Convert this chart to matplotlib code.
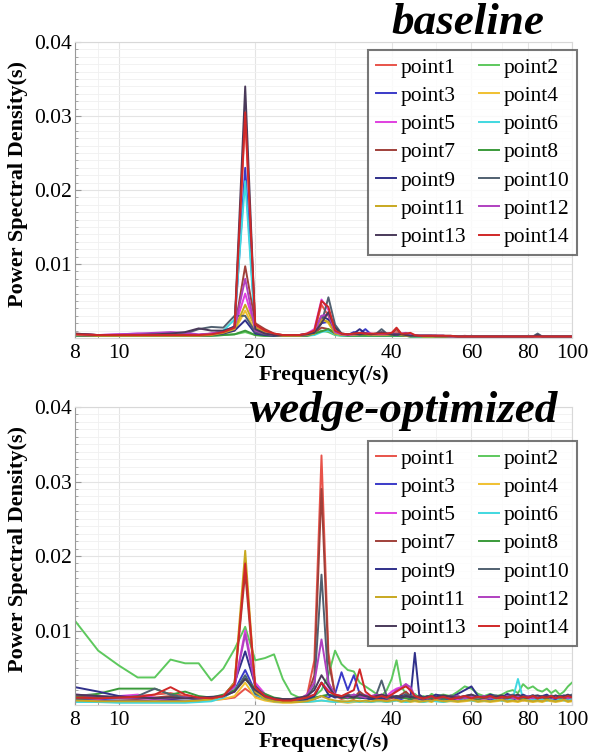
import matplotlib
matplotlib.use("Agg")
import matplotlib.pyplot as plt
from matplotlib.ticker import FixedLocator, NullFormatter, MultipleLocator

# ---------------- data (PSD values in units of 1e-4) ----------------
freq = [8, 9, 10, 11, 12, 13, 14, 15, 16, 17,
        18, 19, 20, 21, 22, 23, 24, 25, 26, 27,
        28, 29, 30, 31, 32, 33, 34, 35, 36, 37,
        38, 39, 40, 41, 42, 43, 44, 45, 46, 47,
        48, 49, 50, 52, 54, 56, 58, 60, 62, 64,
        66, 68, 70, 72, 74, 76, 78, 80, 82, 84,
        86, 88, 90, 92, 94, 96, 98, 100]

labels = ["point%d" % i for i in range(1, 15)]
colors = ["#e8534a", "#5dc85d", "#3a3ac8", "#f0c030", "#e040e0", "#40d8e0", "#a0403a",
          "#3a9a3a", "#30308a", "#506070", "#c8a820", "#b040c0", "#4a3a5a", "#d02828"]

# baseline
base_p1 = [6,4,3,4,4,3,3,4,6,9, 14,298,15,8,5,4,4,4,5,8, 45,30,8,5,4,6,5,6,5,5,
           5,5,6,8,5,4,4,3,3,3, 3,3,3,3,2,2,3,2,2,2, 2,2,2,2,2,2,2,2,2,3, 2,2,2,2,2,2,2,2]
base_p2 = [4,3,3,3,3,3,3,3,3,4, 5,8,4,3,3,3,3,3,3,5, 10,8,4,3,3,3,3,3,3,3,
           3,3,3,3,3,3,2,2,2,2, 2,2,2,2,2,2,2,2,2,2, 2,2,2,2,2,2,2,2,2,2, 2,2,2,2,2,2,2,2]
base_p3 = [5,4,4,3,3,3,3,4,5,8, 16,230,10,6,4,3,3,3,4,6, 20,22,6,4,4,8,6,12,5,4,
           6,4,5,4,4,3,3,3,3,3, 3,3,3,2,2,2,2,2,2,2, 2,2,2,2,2,2,2,2,2,2, 2,2,2,2,2,2,2,2]
base_p4 = [4,3,3,3,3,3,3,3,4,6, 10,37,8,5,4,3,3,3,3,5, 27,20,6,4,3,4,4,5,4,4,
           4,4,5,5,4,3,3,3,3,2, 2,2,2,2,2,2,2,2,2,2, 2,2,2,2,2,2,2,2,2,2, 2,2,2,2,2,2,2,2]
base_p5 = [5,4,5,6,5,4,4,4,6,9, 14,60,12,6,4,4,3,4,6,12, 52,38,10,5,4,5,6,7,6,5,
           5,6,7,6,5,5,4,3,3,3, 3,3,3,3,2,2,2,2,2,2, 2,2,2,2,2,2,2,2,2,2, 2,2,2,2,2,2,2,2]
base_p6 = [3,3,3,3,3,3,3,3,4,10, 25,212,8,4,3,3,3,3,3,4, 8,10,5,3,3,3,3,3,3,3,
           3,3,3,3,3,3,2,2,2,2, 2,2,2,2,2,2,2,2,2,2, 2,2,2,2,2,2,2,2,2,2, 2,2,2,2,2,2,2,2]
base_p7 = [5,4,4,4,4,4,4,4,5,8, 12,97,20,12,6,4,4,4,5,7, 14,12,6,5,4,5,5,5,4,4,
           5,5,6,12,5,4,4,3,3,3, 3,3,3,2,2,2,2,2,2,2, 2,2,2,2,2,2,2,2,2,2, 2,2,2,2,2,2,2,2]
base_p8 = [3,3,3,3,3,3,3,3,3,4, 5,10,4,3,3,3,3,3,3,6, 9,12,7,4,3,3,3,3,3,3,
           3,3,3,3,3,3,2,2,2,2, 2,2,2,2,2,2,2,2,2,2, 2,2,2,2,2,2,2,2,2,2, 2,2,2,2,2,2,2,2]
base_p9 = [4,3,3,3,3,3,3,3,4,6, 10,24,6,4,3,3,3,3,4,8, 30,25,8,5,4,6,12,6,5,4,
           4,4,5,4,4,3,3,3,3,3, 3,3,2,2,2,2,2,2,2,2, 2,2,2,2,2,2,2,2,2,2, 2,2,2,2,2,2,2,2]
base_p10 = [4,3,3,3,4,4,6,12,15,14, 30,30,8,5,4,4,4,4,5,8, 20,55,18,6,5,6,5,6,5,6,
            12,6,5,5,4,4,3,3,3,3, 3,3,3,3,2,2,2,2,2,2, 2,2,2,2,2,2,2,2,2,6, 2,2,2,2,2,2,2,2]
base_p11 = [4,3,3,3,3,3,3,3,4,7, 12,45,14,7,4,3,3,3,4,6, 25,22,6,4,4,4,5,5,4,4,
            4,4,5,6,4,3,3,3,3,2, 2,2,2,2,2,2,2,2,2,2, 2,2,2,2,2,2,2,2,2,2, 2,2,2,2,2,2,2,2]
base_p12 = [5,4,5,6,7,8,7,5,6,9, 14,80,10,6,4,4,4,4,5,8, 30,32,8,5,4,5,5,6,5,5,
            5,5,6,5,6,7,5,4,3,3, 3,3,3,3,2,2,2,2,2,2, 2,2,2,2,2,2,2,2,2,2, 2,2,2,2,2,2,2,2]
base_p13 = [6,4,4,4,5,6,8,13,10,10, 15,340,12,6,4,4,4,4,5,7, 20,35,14,6,5,6,5,6,5,6,
            8,6,5,5,5,4,3,3,3,3, 3,3,3,3,3,2,2,2,2,2, 2,2,2,2,2,2,2,2,2,4, 2,2,2,2,2,2,2,2]
base_p14 = [5,4,4,4,4,4,4,4,5,8, 14,305,18,10,6,4,4,4,6,10, 50,42,10,6,5,6,7,6,6,6,
            6,6,7,14,6,6,7,4,3,3, 3,3,3,3,3,2,2,2,2,2, 2,2,2,2,2,2,2,2,2,2, 2,2,2,2,2,2,2,2]

# wedge-optimized
wedge_p1 = [10,9,10,12,14,16,12,8,7,8, 10,22,12,8,6,5,5,6,12,60, 335,70,12,8,10,8,14,10,8,7,
            8,7,9,8,10,12,8,7,9,6, 8,6,7,9,6,8,7,10,8,6, 9,7,8,6,10,8,7,9,6,8, 7,9,6,8,10,7,8,9]
wedge_p2 = [113,73,53,37,37,61,56,56,33,49, 75,105,60,63,68,35,15,10,10,12, 20,40,73,55,47,45,30,25,20,15,
            12,20,35,60,25,15,12,15,10,12, 10,15,12,14,12,18,25,22,15,12, 15,12,14,18,20,16,28,22,25,20,
            18,22,16,20,14,18,25,30]
wedge_p3 = [8,7,6,6,5,6,5,6,7,10, 20,47,18,10,6,5,5,6,5,8, 12,10,15,44,20,40,15,10,8,9,
            10,8,12,9,8,10,7,12,8,6, 8,6,9,7,8,6,10,7,8,6, 7,9,6,8,7,10,6,8,9,7, 8,6,9,7,8,10,7,9]
wedge_p4 = [5,4,4,4,4,4,4,5,6,8, 12,30,10,6,4,3,3,4,4,5, 6,5,4,4,3,4,5,4,4,5,
            5,4,5,6,4,5,4,5,4,4, 5,4,6,4,5,4,5,6,4,5, 4,5,6,4,5,4,6,5,4,5, 4,6,5,4,5,6,4,5]
wedge_p5 = [10,8,12,14,10,8,10,9,8,10, 25,100,30,15,8,6,6,7,10,14, 30,20,14,10,12,10,12,14,10,12,
            14,12,18,22,24,28,18,12,10,9, 10,8,12,9,11,8,10,12,9,8, 10,9,12,8,10,9,11,8,10,9,
            8,10,9,12,8,10,9,11]
wedge_p6 = [4,4,3,3,3,3,3,4,5,10, 20,38,14,8,5,4,4,4,4,5, 6,5,4,5,4,5,4,5,4,5,
            5,4,5,6,5,4,5,6,5,4, 5,6,5,4,6,5,7,6,5,6, 5,7,6,6,8,35,8,6,7,6, 8,6,7,5,8,6,7,9]
wedge_p7 = [12,10,9,8,10,12,10,8,9,12, 30,178,20,10,6,5,5,6,10,40, 290,60,14,10,12,10,18,12,10,9,
            10,9,12,10,14,18,12,10,9,8, 10,8,9,12,8,10,9,11,8,10, 9,11,8,10,9,12,8,10,11,9,
            10,8,11,9,12,10,9,11]
wedge_p8 = [12,15,22,22,22,14,18,12,10,14, 20,35,22,15,10,8,7,7,8,10, 12,14,12,10,9,10,9,10,8,9,
            10,9,11,12,10,9,8,10,12,9, 10,9,11,8,10,12,9,10,8,11, 9,10,12,9,11,10,8,12,10,9,
            11,9,10,12,9,11,10,12]
wedge_p9 = [24,18,12,10,9,8,9,8,9,12, 30,72,26,12,8,6,6,7,8,12, 30,14,10,12,10,14,10,9,8,10,
            9,10,12,10,12,14,10,70,14,10, 12,10,14,12,10,15,20,25,12,10, 14,12,10,15,12,10,14,11,13,10,
            12,14,10,12,11,13,10,12]
wedge_p10 = [8,9,10,12,22,14,10,8,9,12, 18,40,15,10,7,6,6,7,10,25, 175,30,12,10,14,12,10,12,10,14,
             33,12,10,12,10,14,12,10,9,10, 12,10,11,9,13,10,12,14,10,12, 11,13,10,12,14,10,12,11,13,10,
             12,10,13,11,12,10,12,14]
wedge_p11 = [6,5,5,5,5,5,5,6,8,12, 30,207,18,8,5,4,4,4,5,8, 12,8,6,5,5,6,5,6,5,6,
             6,5,6,7,5,6,5,6,5,5, 6,5,7,5,6,5,6,7,5,6, 5,6,7,5,6,5,7,6,5,6, 5,7,6,5,6,7,5,6]
wedge_p12 = [14,12,10,9,8,9,10,9,10,12, 25,95,24,12,8,7,7,8,14,30, 88,30,14,12,10,14,12,10,12,14,
             12,10,14,20,22,28,24,12,10,9, 10,12,9,11,10,12,9,11,10,12, 9,11,10,12,9,11,10,12,9,11,
             10,12,9,11,10,12,9,11]
wedge_p13 = [14,12,11,10,9,10,9,10,11,12, 18,35,20,12,9,8,8,10,12,20, 40,25,12,10,12,10,14,12,10,12,
             14,12,10,12,10,12,11,10,12,10, 11,12,10,13,11,10,12,14,11,10, 12,11,13,10,12,14,11,10,12,13,
             11,12,10,13,11,12,14,11]
wedge_p14 = [10,9,10,11,14,24,14,10,9,12, 28,190,24,12,8,6,6,8,10,14, 30,18,14,12,16,20,48,18,12,10,
             12,10,14,18,22,25,20,12,10,9, 10,12,9,11,8,10,12,9,11,10, 12,9,11,10,12,9,11,10,12,9,
             11,10,12,9,11,10,12,10]

baseline_series = [base_p1, base_p2, base_p3, base_p4, base_p5, base_p6, base_p7,
                   base_p8, base_p9, base_p10, base_p11, base_p12, base_p13, base_p14]
wedge_series = [wedge_p1, wedge_p2, wedge_p3, wedge_p4, wedge_p5, wedge_p6, wedge_p7,
                wedge_p8, wedge_p9, wedge_p10, wedge_p11, wedge_p12, wedge_p13, wedge_p14]

yticks = [0.01, 0.02, 0.03, 0.04]
xticks = [8, 10, 20, 40, 60, 80, 100]
xminor = [9, 30, 50, 70, 90]
UNIT = 1e-4

SERIF = ["Liberation Serif", "DejaVu Serif"]

fig = plt.figure(figsize=(5.93, 7.55), dpi=100)
ax1 = fig.add_axes([0.1265, 0.5523, 0.838, 0.392])
ax2 = fig.add_axes([0.1265, 0.0662, 0.838, 0.3947])


def style(ax, series, title, title_xy, leg_anchor):
    lines = []
    for s, lab, c in zip(series, labels, colors):
        ln, = ax.plot(freq, [v * UNIT for v in s], color=c, lw=1.4, label=lab)
        lines.append(ln)
    ax.set_xscale("log")
    ax.set_xlim(8, 100)
    ax.set_ylim(0, 0.04)
    ax.xaxis.set_major_locator(FixedLocator(xticks))
    ax.xaxis.set_minor_locator(FixedLocator(xminor))
    ax.xaxis.set_minor_formatter(NullFormatter())
    ax.set_xticklabels([str(t) for t in xticks])
    ax.set_yticks(yticks)
    ax.set_yticklabels(["%.2f" % t for t in yticks])
    ax.yaxis.set_minor_locator(MultipleLocator(0.001))
    ax.grid(True, which="major", color="#e4e4e4", lw=0.8)
    ax.grid(True, which="minor", color="#f0f0f0", lw=0.6)
    ax.set_axisbelow(True)
    for sp in ["top", "right", "bottom"]:
        ax.spines[sp].set_color("#d8d8d8")
        ax.spines[sp].set_linewidth(0.8)
    ax.spines["left"].set_color("#999999")
    ax.tick_params(axis="both", which="both", direction="in", colors="#999999",
                   labelcolor="black", labelsize=15.5)
    ax.tick_params(axis="y", which="major", length=4, pad=2)
    ax.tick_params(axis="y", which="minor", length=2)
    ax.tick_params(axis="x", which="major", length=3, pad=4)
    ax.tick_params(axis="x", which="minor", length=2)
    for t in ax.get_xticklabels() + ax.get_yticklabels():
        t.set_family(SERIF)
    ax.set_xlabel("Frequency(/s)", fontsize=16, fontweight="bold", family=SERIF, labelpad=2)
    ax.set_ylabel("Power Spectral Density(s)", fontsize=16, fontweight="bold", family=SERIF)
    ax.yaxis.set_label_coords(-0.094, 0.522)
    fig.text(title_xy[0], title_xy[1], title, fontsize=32.5, fontweight="bold", fontstyle="italic",
             family=SERIF, ha="center", va="center")
    order = list(range(0, 14, 2)) + list(range(1, 14, 2))
    leg = ax.legend([lines[i] for i in order], [labels[i] for i in order],
                    ncol=2, loc="upper right", bbox_to_anchor=leg_anchor,
                    bbox_transform=fig.transFigure, frameon=True, fancybox=False,
                    prop={"family": SERIF, "size": 15.5}, handlelength=0.95, handletextpad=0.2,
                    columnspacing=0.6, labelspacing=0.38, borderpad=0.35, borderaxespad=0)
    leg.get_frame().set_edgecolor("#555555")
    leg.get_frame().set_linewidth(1.5)


style(ax1, baseline_series, "baseline", (468 / 593, 1 - 23 / 755), (577 / 593, 1 - 50 / 755))
style(ax2, wedge_series, "wedge-optimized", (404 / 593, 1 - 411 / 755), (577 / 593, 1 - 441 / 755))

fig.savefig("out.png", dpi=100)
